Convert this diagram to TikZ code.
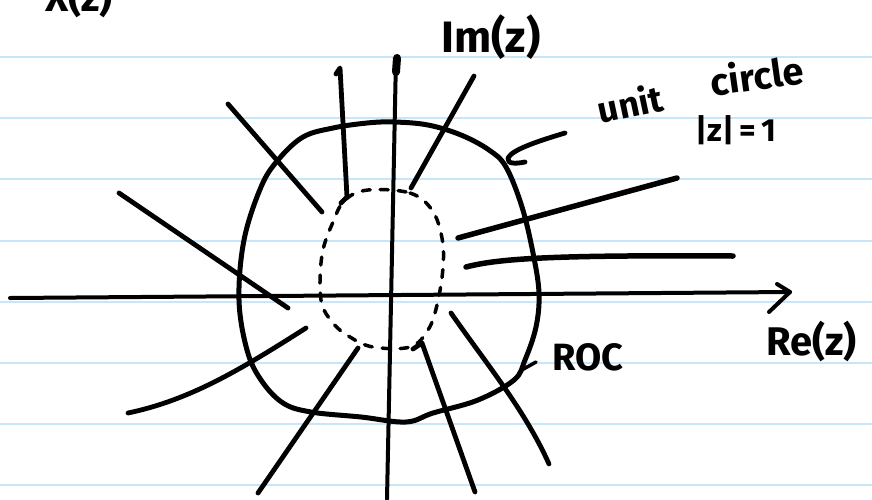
\documentclass[tikz,border=0pt]{standalone}
\usepackage{fontspec}
\setmainfont{Fira Sans}
\begin{document}
\begin{tikzpicture}[x=1pt,y=-1pt,
  paper/.style={draw={rgb,255:red,200;green,230;blue,250},line width=2.5pt},
  ink/.style={draw=black,line width=4.8pt,line cap=round,line join=round},
  axis/.style={draw=black,line width=4pt,line cap=round,line join=round},
  hand/.style={text=black,inner sep=0pt,font=\bfseries}]
\useasboundingbox (0,0) rectangle (872,499);
\fill[white] (0,0) rectangle (872,499);
% paper lines
\foreach \yy in {57,118,179,241,302,363,424,485}
  \draw[paper] (0,\yy) -- (872,\yy);
% cut-off title
\node[hand,anchor=base west,font=\bfseries\fontsize{40}{40}\selectfont] (title) at (45,11) {X(z)};
% axes
\draw[axis] (10,298) -- (790,292);
\draw[axis] (777,284) -- (790,292) -- (769,312);
\draw[axis] (387,499) -- (396,57);
\draw[draw=black,line width=8pt,line cap=round] (397,58) -- (396,72);
% unit circle
\draw[ink,line width=5pt] plot[smooth cycle,tension=0.6] coordinates {
 (394,122) (428,125) (461,135) (489,150) (506,167) (522,207) (533,253)
 (539,293) (536,327) (525,360) (514,380) (478,400) (433,413) (406,422)
 (361,417) (311,412) (283,403) (261,380) (247,350) (239,300) (244,240)
 (261,187) (278,160) (303,137) (333,128) (367,123)};
% inner dashed circle
\draw[draw=black,line width=3.5pt,line cap=round,dash pattern=on 8pt off 10pt]
 plot[smooth cycle,tension=0.6] coordinates {
 (368,190) (410,193) (432,210) (442,238) (443,268) (437,305) (428,330)
 (410,347) (373,347) (350,337) (333,323) (321,300) (322,255) (333,222) (345,200)};
% radial lines
\draw[ink] (228,104) -- (322,212);
\draw[ink] (336,74) -- (340,68) -- (347,197) -- (341,203);
\draw[ink] (474,76) -- (411,188);
\draw[ink] (119,193) -- (288,308);
\draw[ink,line width=5.5pt] (458,238) -- (677,178);
\draw[ink,line width=5.5pt] (466,267) .. controls (500,258) and (560,255) .. (733,256);
\draw[ink] (128,413) .. controls (190,400) and (240,370) .. (306,328);
\draw[ink] (258,493) -- (358,348);
\draw[ink] (413,349) -- (422,343) -- (475,492);
\draw[ink] (451,313) .. controls (485,362) and (525,410) .. (549,464);
% labels
\node[hand,font=\bfseries\fontsize{44}{44}\selectfont] (im) at (491,37) {Im(z)};
\node[hand,font=\bfseries\fontsize{36}{36}\selectfont,rotate=12] (unit) at (630,103) {unit};
\node[hand,font=\bfseries\fontsize{38}{38}\selectfont,rotate=8] (circ) at (757,75) {circle};
\node[hand,font=\bfseries\fontsize{32}{32}\selectfont] (mod) at (736,130) {|z|\,=\,1};
\node[hand,font=\bfseries\fontsize{38}{38}\selectfont] (roc) at (588,357) {ROC};
\node[hand,anchor=west,font=\bfseries\fontsize{40}{40}\selectfont] (re) at (766,341) {Re(z)};
% pointers
\draw[ink] (565,133) .. controls (535,142) and (512,150) .. (508,158)
  .. controls (507,164) and (515,164) .. (525,162);
\draw[ink,line width=3.5pt] (520,371) -- (536,362);
\end{tikzpicture}
\end{document}
